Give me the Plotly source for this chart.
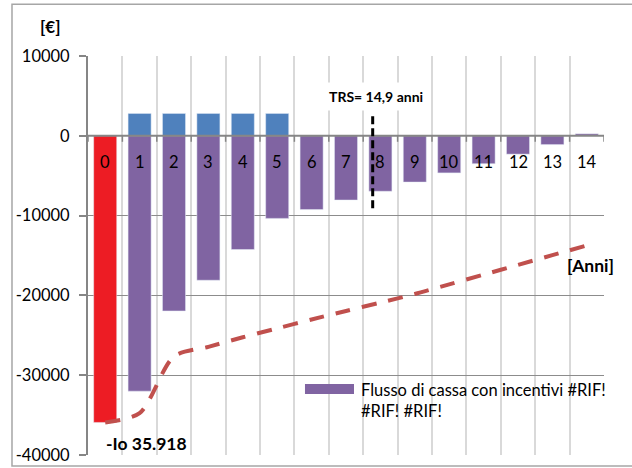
import plotly.graph_objects as go

# ---------------- data ----------------
years = list(range(15))
year_labels = [str(y) for y in years]
investment = [-35918] + [None] * 14
incentives = [None, 2800, 2800, 2800, 2800, 2800] + [None] * 9
cash_flow = [None, -32000, -21950, -18100, -14250, -10350, -9250, -8050,
             -6950, -5800, -4650, -3500, -2300, -1100, 250]
cumulative = [-35918, -34750, -27650, -26450, -25250, -24130, -23020, -21950,
              -20900, -19830, -18610, -17400, -16180, -14960, -13740]
y_ticks = [-40000, -30000, -20000, -10000, 0, 10000]
y_tick_labels = ["-40000", "-30000", "-20000", "-10000", "0", "10000"]
legend_name = "Flusso di cassa con incentivi #RIF!<br>#RIF! #RIF!"
trs_text = "TRS= 14,9 anni"
io_text = "-Io 35.918"

# ---------------- style / layout constants ----------------
FONT = "Lato"
TXT = "#000000"
boundaries = [y - 0.5 for y in years] + [years[-1] + 0.5]
trs_x, trs_y0, trs_y1 = 7.776, 2440, -9310

fig = go.Figure()
fig.add_trace(go.Bar(x=years, y=investment, marker_color="#ED1C24", width=0.67,
                     showlegend=False, name="Investimento"))
fig.add_trace(go.Bar(x=years, y=incentives, marker_color="#4F81BD", width=0.67,
                     showlegend=False, name="Incentivi"))
fig.add_trace(go.Bar(x=years, y=cash_flow, marker_color="#8064A2", width=0.67,
                     showlegend=False, name=legend_name))
fig.add_trace(go.Scatter(x=years, y=cumulative, mode="lines", showlegend=False,
                         line=dict(color="#C0504D", width=4, dash="15px,12px",
                                   shape="spline", smoothing=0.8)))

shapes = []
# outer chart border
shapes.append(dict(type="rect", xref="paper", yref="paper", x0=-0.1473, x1=1.2,
                   y0=-0.0276, y1=1.130, line=dict(color="#a6a6a6", width=1.5),
                   layer="below"))
# zero line (horizontal axis)
shapes.append(dict(type="line", xref="x", yref="y", x0=boundaries[0], x1=boundaries[-1],
                   y0=0, y1=0, line=dict(color="#868686", width=2), layer="above"))
# small tick marks on the horizontal axis
for b in boundaries:
    shapes.append(dict(type="line", xref="x", yref="y", x0=b, x1=b,
                       ysizemode="pixel", yanchor=0, y0=0, y1=-6,
                       line=dict(color="#868686", width=1.5), layer="above"))
# TRS dashed marker
shapes.append(dict(type="line", xref="x", yref="y", x0=trs_x, x1=trs_x,
                   y0=trs_y0, y1=trs_y1, line=dict(color="black", width=3, dash="8px,4px"),
                   layer="above"))
# legend symbol
shapes.append(dict(type="rect", xref="paper", yref="paper", x0=0.4205, x1=0.5155,
                   y0=0.153, y1=0.178, fillcolor="#8064A2", line=dict(width=0)))

annotations = []
for y, lab in zip(years, year_labels):
    annotations.append(dict(x=y, y=0, xref="x", yref="y", text=lab, showarrow=False,
                            yshift=-26, xanchor="center", yanchor="middle",
                            font=dict(family=FONT, size=16.5, color=TXT)))
annotations.append(dict(x=-0.0736, y=1.075, xref="paper", yref="paper", text="<b>[€]</b>",
                        showarrow=False, xanchor="center", yanchor="middle",
                        font=dict(family=FONT, size=17, color=TXT)))
annotations.append(dict(x=7.87, y=4940, xref="x", yref="y", text="<b>" + trs_text + "</b>",
                        showarrow=False, bgcolor="white", borderpad=5,
                        xanchor="center", yanchor="middle",
                        font=dict(family=FONT, size=14, color=TXT)))
annotations.append(dict(x=1.186, y=-38560, xref="x", yref="y", text="<b>" + io_text + "</b>",
                        showarrow=False, xanchor="center", yanchor="middle",
                        font=dict(family=FONT, size=17.5, color=TXT)))
annotations.append(dict(x=0.973, y=0.476, xref="paper", yref="paper", text="<b>[Anni]</b>",
                        showarrow=False, xanchor="center", yanchor="middle",
                        font=dict(family=FONT, size=17.5, color=TXT)))
annotations.append(dict(x=0.5245, y=0.1357, xref="paper", yref="paper", text=legend_name,
                        showarrow=False, xanchor="left", yanchor="middle", align="left",
                        font=dict(family=FONT, size=16.5, color=TXT)))

fig.update_layout(
    width=632, height=468, autosize=False,
    margin=dict(l=88, r=28, t=56, b=13),
    paper_bgcolor="white", plot_bgcolor="white",
    barmode="relative",
    shapes=shapes, annotations=annotations,
    font=dict(family=FONT, color=TXT),
    xaxis=dict(range=[boundaries[0], boundaries[-1]], tickvals=boundaries,
               showticklabels=False, showgrid=True, gridcolor="#d9d9d9", gridwidth=2,
               zeroline=False, ticks="", showline=False, fixedrange=True,
               automargin=False),
    yaxis=dict(range=[y_ticks[0], y_ticks[-1]], tickvals=y_ticks, ticktext=y_tick_labels,
               showgrid=True, gridcolor="#8c8c8c", gridwidth=1, zeroline=False,
               showline=True, linecolor="#868686", linewidth=2,
               ticks="outside", ticklen=7, tickcolor="#868686", tickwidth=1.5,
               ticklabelstandoff=6, automargin=False,
               tickfont=dict(family=FONT, size=16.5, color=TXT), fixedrange=True),
)

fig.write_html("out.html")
